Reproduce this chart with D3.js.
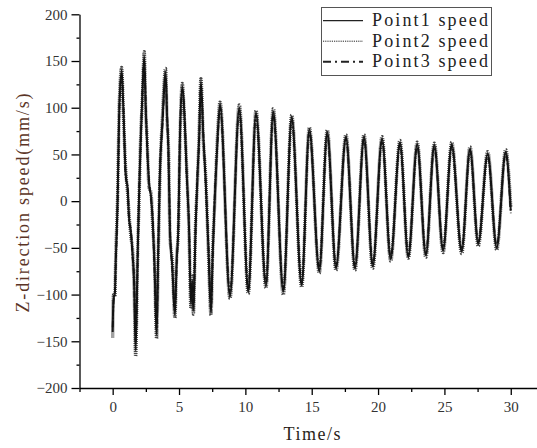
<!DOCTYPE html>
<html>
<head>
<meta charset="utf-8">
<script src="https://cdn.jsdelivr.net/npm/d3@7"></script>
<style>
  html, body { margin: 0; padding: 0; background: #fff; }
  svg { display: block; }
</style>
</head>
<body>
<div id="chart"></div>
<script>
// time stamps (s) of the points
const timeS = [0.00, 0.06, 0.17, 0.22, 0.37, 0.50, 0.68, 0.80, 0.98, 1.13,
    1.23, 1.38, 1.50, 1.62, 1.73, 1.88, 1.98, 2.11, 2.23, 2.38,
    2.49, 2.58, 2.74, 2.89, 3.01, 3.14, 3.31, 3.44, 3.56, 3.74,
    3.99, 4.10, 4.20, 4.32, 4.49, 4.69, 4.82, 4.95, 5.07, 5.25,
    5.40, 5.58, 5.75, 5.90, 6.00, 6.08, 6.25, 6.40, 6.50, 6.65,
    6.83, 7.01, 7.21, 7.41, 7.53, 7.70, 7.91, 8.09, 8.84, 9.54,
    10.22, 10.80, 11.55, 12.10, 12.86, 13.49, 14.24, 14.82, 15.57, 16.17,
    16.83, 17.58, 18.26, 18.94, 19.60, 20.30, 20.95, 21.65, 22.28, 22.95,
    23.60, 24.24, 24.90, 25.55, 26.30, 26.93, 27.55, 28.26, 28.94, 29.62,
    30.00];

const point1 = [-140, -105, -98, -70, 1, 101, 140, 101, 30, 12,
    -17, -35, -56, -90, -160, -60, 1, 65, 111, 155,
    100, 67, 19, 5, -20, -63, -143, -49, 30, 83,
    138, 90, 55, -33, -69, -122, -65, -27, 69, 123,
    94, 30, -27, -110, -85, -117, -27, 30, 62, 128,
    69, 22, -49, -119, -60, 5, 69, 104, -102, 100,
    -97, 95, -91, 96, -97, 90, -90, 77, -75, 74,
    -72, 69, -72, 69, -70, 67, -62, 63, -60, 61,
    -58, 60, -53, 61, -54, 56, -46, 51, -50, 53,
    -10];

const point2 = [-146, -100, -102, -66, 4, 105, 143, 97, 34, 8,
    -13, -39, -52, -96, -166, -56, -3, 69, 107, 160,
    96, 71, 15, 9, -24, -59, -147, -53, 26, 87,
    142, 86, 59, -37, -65, -125, -61, -31, 65, 126,
    90, 34, -31, -115, -80, -121, -23, 26, 66, 131,
    65, 26, -53, -122, -56, 1, 73, 106, -104, 103,
    -99, 97, -93, 99, -100, 92, -92, 79, -77, 76,
    -74, 71, -74, 71, -72, 69, -64, 65, -61, 63,
    -60, 62, -55, 63, -56, 58, -48, 53, -52, 55,
    -6];

const point3 = [-135, -110, -95, -74, -2, 97, 136, 104, 26, 15,
    -20, -31, -60, -86, -152, -64, 4, 61, 114, 150,
    104, 63, 22, 2, -17, -67, -138, -45, 33, 79,
    133, 94, 51, -29, -72, -118, -68, -24, 72, 119,
    97, 27, -24, -106, -90, -113, -30, 33, 59, 124,
    72, 19, -46, -116, -63, 8, 66, 101, -99, 97,
    -95, 92, -88, 94, -95, 88, -88, 75, -73, 72,
    -70, 67, -70, 67, -68, 65, -60, 61, -58, 59,
    -56, 58, -51, 59, -52, 54, -44, 49, -48, 51,
    -13];

const seriesNames = ["Point1 speed", "Point2 speed", "Point3 speed"];
const xTickValues = [0, 5, 10, 15, 20, 25, 30];
const yTickValues = [-200, -150, -100, -50, 0, 50, 100, 150, 200];

const width = 537, height = 448;

const svg = d3.select("#chart").append("svg")
    .attr("width", width)
    .attr("height", height);

const x = d3.scaleLinear().domain([-2.5, 32]).range([79.5, 537.3]);
const y = d3.scaleLinear().domain([-200, 200]).range([388, 14.3]);

const textFont = "'Liberation Serif', 'DejaVu Serif', serif";

// ---- series ----
const styles = [
    { dash: null, width: 2, color: "#1a1a1a" },
    { dash: "1,1", width: 3.4, color: "#444" },
    { dash: "6,2,1.5,2", width: 1.8, color: "#111" }
];

const line = d3.line()
    .x(d => x(d.t))
    .y(d => y(d.v))
    .curve(d3.curveMonotoneX);

// dotted Point2 underneath so the solid/dash-dot lines sit on top of its fuzz
[point2, point1, point3].forEach((vals, j) => {
    const i = [1, 0, 2][j];
    const data = timeS.map((t, k) => ({ t: t, v: vals[k] }));
    svg.append("path")
        .datum(data)
        .attr("fill", "none")
        .attr("stroke", styles[i].color)
        .attr("stroke-width", styles[i].width)
        .attr("stroke-dasharray", styles[i].dash)
        .attr("stroke-linejoin", "round")
        .attr("d", line);
});

// ---- axes ----
const xAxis = svg.append("g")
    .attr("transform", `translate(0,388)`)
    .call(d3.axisBottom(x).tickValues(xTickValues).tickSize(7).tickPadding(6).tickSizeOuter(0));
// minor x ticks
svg.append("g")
    .attr("transform", `translate(0,388)`)
    .call(d3.axisBottom(x).tickValues(d3.range(-2.5, 32, 5)).tickSize(4).tickFormat("").tickSizeOuter(0))
    .select(".domain").remove();

const yAxis = svg.append("g")
    .attr("transform", `translate(79.5,0)`)
    .call(d3.axisLeft(y).tickValues(yTickValues).tickSize(8).tickPadding(4).tickSizeOuter(0));
svg.append("g")
    .attr("transform", `translate(79.5,0)`)
    .call(d3.axisLeft(y).tickValues(d3.range(-175, 200, 50)).tickSize(3).tickFormat("").tickSizeOuter(0))
    .select(".domain").remove();

svg.selectAll(".domain, .tick line")
    .attr("stroke", "#000")
    .attr("stroke-width", 1.3);

xAxis.selectAll("text")
    .attr("font-family", textFont)
    .attr("font-size", "15px")
    .attr("fill", "#333");
yAxis.selectAll("text")
    .attr("font-family", textFont)
    .attr("font-size", "15px")
    .attr("fill", "#333");

// ---- axis titles ----
svg.append("text")
    .attr("x", 312)
    .attr("y", 440)
    .attr("text-anchor", "middle")
    .attr("font-family", textFont)
    .attr("font-size", "18px")
    .attr("textLength", 57)
    .attr("lengthAdjust", "spacing")
    .attr("fill", "#2a1f1a")
    .text("Time/s");

svg.append("text")
    .attr("transform", "translate(29,203) rotate(-90)")
    .attr("text-anchor", "middle")
    .attr("font-family", textFont)
    .attr("font-size", "18px")
    .attr("textLength", 219)
    .attr("lengthAdjust", "spacing")
    .attr("fill", "#5a3426")
    .text("Z-direction speed(mm/s)");

// ---- legend ----
const legend = svg.append("g");
legend.append("rect")
    .attr("x", 321.5)
    .attr("y", 7.5)
    .attr("width", 170)
    .attr("height", 68)
    .attr("fill", "#fff")
    .attr("stroke", "#555")
    .attr("stroke-width", 1);

const legendDash = [null, "1.2,1", "8,4,2,4"];
const legendWidth = [1.2, 1, 2];
seriesNames.forEach((name, i) => {
    const cy = 20.7 + i * 20.5;
    legend.append("line")
        .attr("x1", 323)
        .attr("x2", 363)
        .attr("y1", cy)
        .attr("y2", cy)
        .attr("stroke", "#222")
        .attr("stroke-width", legendWidth[i])
        .attr("stroke-dasharray", legendDash[i]);
    legend.append("text")
        .attr("x", 372)
        .attr("y", cy + 5.5)
        .attr("font-family", textFont)
        .attr("font-size", "18px")
        .attr("textLength", 116)
        .attr("lengthAdjust", "spacing")
        .attr("fill", "#222")
        .text(name);
});
</script>
</body>
</html>
